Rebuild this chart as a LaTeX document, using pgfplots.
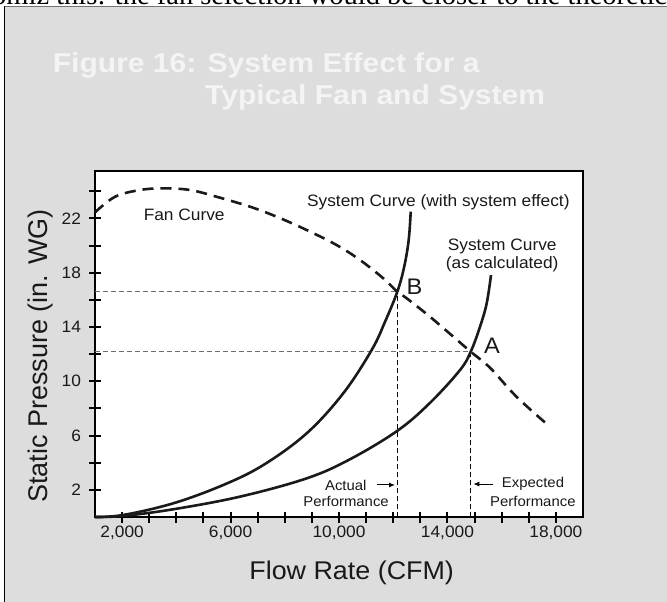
\documentclass[border=0pt]{standalone}
\usepackage{pgfplots}
\pgfplotsset{compat=1.18}
\usetikzlibrary{arrows.meta}
\usepackage{fontspec}
\setmainfont[FakeStretch=1.05]{Liberation Sans}
\newfontfamily\titlefont[FakeStretch=1.1]{Liberation Sans}
\newfontfamily\plainsans{Liberation Sans}
\newfontfamily\serifpage{Liberation Serif}
\definecolor{panelgray}{HTML}{DDDDDD}
\definecolor{titlewhite}{HTML}{F4F4F4}
\definecolor{refgray}{HTML}{6E6E6E}
\definecolor{curveblack}{HTML}{1A1A1A}

\pgfplotstableread{
x y
1000 22.45
1738 23.60
2660 24.10
3519 24.22
4504 24.10
5489 23.60
6717 22.87
7702 22.13
8809 21.15
9915 20.04
10775 18.94
11634 17.59
12150 16.60
12497 16.12
13356 14.76
14216 13.29
14858 12.18
15570 11.00
16555 8.85
17783 6.65
}\fancurve

\pgfplotstableread{
x y
1000 0.00
2044 0.15
3888 1.01
5732 2.36
7208 3.83
8809 6.17
10158 9.12
11206 12.31
11700 14.40
12150 16.60
12400 18.40
12570 20.40
12645 22.50
}\syseffect

\pgfplotstableread{
x y
1000 0.00
2044 0.08
3888 0.57
6348 1.50
8809 2.85
10400 4.25
12150 6.35
13350 8.40
14463 10.83
14858 12.18
15201 14.02
15448 15.75
15607 17.83
}\syscalc

\begin{document}
\begin{tikzpicture}[x=1pt,y=1pt]
\path[use as bounding box] (0,0) rectangle (667,-602);
\fill[panelgray] (4.3,-6.4) rectangle (667,-602);
\draw[line width=0.8pt, black!55] (4.3,-6.4) -- (667,-6.4);
\draw[line width=1.4pt, black] (4.3,-6.4) -- (4.3,-602);
\begin{scope}
\clip (0,0) rectangle (667,-5.8);
\node[anchor=base west, inner sep=0pt] at (-8,-5) {\serifpage\fontsize{28.5}{32}\selectfont omiz this: the fan selection would be closer to the theoretical};
\end{scope}
\node[anchor=base west, inner sep=0pt, text=titlewhite] at (52.7,-72.7) {\titlefont\bfseries\fontsize{27.3}{30}\selectfont Figure 16: System Effect for a};
\node[anchor=base west, inner sep=0pt, text=titlewhite] at (205,-104.5) {\titlefont\bfseries\fontsize{27.3}{30}\selectfont Typical Fan and System};

\begin{axis}[
  at={(95pt,-517pt)}, anchor=south west,
  scale only axis, width=488pt, height=346pt,
  xmin=1000, xmax=19000, ymin=0, ymax=25.5,
  axis background/.style={fill=white},
  axis line style={line width=1.6pt, black},
  tick style={line width=2pt, black},
  tick align=center,
  major tick length=11pt, minor tick length=11pt,
  tick pos=left,
  scaled x ticks=false, scaled y ticks=false,
  xtick={2000,6000,10000,14000,18000},
  xticklabels={{2,000},{6,000},{10,000},{14,000},{18,000}},
  minor xtick={3000,4000,5000,7000,8000,9000,11000,12000,13000,15000,16000,17000},
  ytick={2,6,10,14,18,22},
  yticklabels={2,6,10,14,18,22},
  minor ytick={4,8,12,16,20,24},
  tick label style={font=\fontsize{16.5}{18}\selectfont, text=black!90},
  yticklabel style={xshift=-5pt},
  xlabel={Flow Rate (CFM)},
  ylabel={Static Pressure (in. WG)},
  x label style={at={(axis description cs:0.526,-0.162)}, anchor=center, font=\fontsize{25.6}{28}\selectfont, text=black!90},
  y label style={at={(axis description cs:-0.111,0.465)}, anchor=center, font=\plainsans\fontsize{27}{30}\selectfont, text=black!90},
  clip=false,
]
% reference lines
\addplot[refgray, line width=1.1pt, dash pattern=on 5pt off 3pt] coordinates {(1000,16.60) (12150,16.60)};
\addplot[refgray, line width=1.1pt, dash pattern=on 5pt off 3pt] coordinates {(1000,12.18) (14858,12.18)};
\addplot[black, line width=1.1pt, dash pattern=on 5pt off 3pt] coordinates {(12150,0) (12150,16.60)};
\addplot[black, line width=1.1pt, dash pattern=on 5pt off 3pt] coordinates {(14858,0) (14858,12.18)};
% curves
\addplot[curveblack, line width=2.6pt, smooth, tension=0.6] table {\syseffect};
\addplot[curveblack, line width=2.6pt, smooth, tension=0.6] table {\syscalc};
\addplot[curveblack, line width=2.6pt, smooth, tension=0.6, dash pattern=on 11pt off 7pt] table {\fancurve};
% labels
\node[font=\fontsize{16.5}{18}\selectfont, text=black!90] at (axis cs:4290,22.25) {Fan Curve};
\node[font=\fontsize{16.5}{18}\selectfont, text=black!90] at (axis cs:13663,23.2) {System Curve (with system effect)};
\node[font=\fontsize{16.5}{18.3}\selectfont, text=black!90, align=center] at (axis cs:16020,19.3) {System Curve\\(as calculated)};
\node[font=\fontsize{22.5}{24}\selectfont, text=black!90] at (axis cs:12785,16.97) {B};
\node[font=\fontsize{22.5}{24}\selectfont, text=black!90] at (axis cs:15643,12.62) {A};
\node[anchor=east, inner sep=0pt, font=\fontsize{14.2}{16}\selectfont, text=black!90] at (axis cs:11022,2.36) {Actual};
\node[anchor=east, inner sep=0pt, font=\fontsize{14.2}{16}\selectfont, text=black!90] at (axis cs:11844,1.13) {Performance};
\node[anchor=west, inner sep=0pt, font=\fontsize{14.2}{16}\selectfont, text=black!90] at (axis cs:16001,2.43) {Expected};
\node[anchor=west, inner sep=0pt, font=\fontsize{14.2}{16}\selectfont, text=black!90] at (axis cs:15570,1.13) {Performance};
\draw[-{Latex[length=6pt,width=5pt]}, line width=1pt] (axis cs:11391,2.36) -- (axis cs:12066,2.36);
\draw[-{Latex[length=6pt,width=5pt]}, line width=1pt] (axis cs:15692,2.43) -- (axis cs:14954,2.43);
\end{axis}
\end{tikzpicture}
\end{document}
